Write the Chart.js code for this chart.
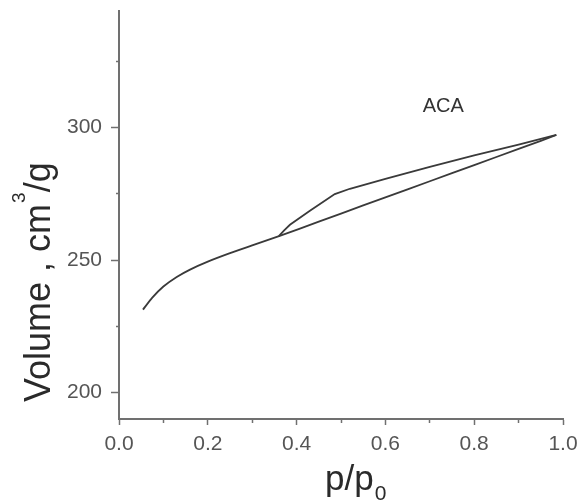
<!DOCTYPE html>
<html>
<head>
<meta charset="utf-8">
<script src="https://cdn.jsdelivr.net/npm/chart.js@4/dist/chart.umd.min.js"></script>
<style>
  html, body { margin: 0; padding: 0; background: #fff; }
  #wrap { width: 587px; height: 504px; position: relative; }
</style>
</head>
<body>
<div id="wrap"><canvas id="isotherm"></canvas></div>
<script>
// N2 isotherm of the ACA sample: adsorption and desorption branches
var adsorptionP = [0.054, 0.075, 0.1, 0.13, 0.16, 0.2, 0.25, 0.3, 0.362, 0.45, 0.55, 0.65, 0.75, 0.85, 0.95, 0.985];
var adsorptionV = [231.3, 235.8, 240.0, 243.6, 246.4, 249.4, 252.6, 255.5, 259.1, 264.5, 270.6, 276.7, 282.8, 288.9, 295.0, 297.2];
var desorptionP = [0.985, 0.9, 0.8, 0.7, 0.6, 0.52, 0.486, 0.43, 0.385, 0.372, 0.36];
var desorptionV = [297.2, 293.6, 289.5, 285.2, 280.6, 276.9, 274.9, 268.6, 263.3, 261.2, 259.0];

var xTicks = [0, 0.1, 0.2, 0.3, 0.4, 0.5, 0.6, 0.7, 0.8, 0.9, 1.0];
var xLabelled = [0, 0.2, 0.4, 0.6, 0.8, 1.0];
var yTicks = [200, 225, 250, 275, 300, 325];
var yLabelled = [200, 250, 300];

var sampleName = 'ACA';
var sampleLabelAt = { x: 0.684, y: 305.7 };

var FONT = '"Liberation Sans", Arial, sans-serif';

function toPoints(xs, ys) {
    var pts = [];
    for (var i = 0; i < xs.length; i++) {
        pts.push({ x: xs[i], y: ys[i] });
    }
    return pts;
}

function isLabelled(list, v) {
    for (var i = 0; i < list.length; i++) {
        if (Math.abs(list[i] - v) < 1e-6) return true;
    }
    return false;
}

// axis titles with super/subscripts, plus the sample name
var textPlugin = {
    id: 'isoText',
    afterDraw: function(chart) {
        var ctx = chart.ctx;
        var area = chart.chartArea;
        ctx.save();
        ctx.fillStyle = '#2a2a2a';
        ctx.textAlign = 'left';
        ctx.textBaseline = 'alphabetic';

        // y title, reading bottom to top
        ctx.save();
        ctx.translate(area.left - 69, area.bottom - 17);
        ctx.rotate(-Math.PI / 2);
        ctx.font = '36px ' + FONT;
        var pos = 0;
        ctx.fillText('Volume , cm', pos, 0);
        pos += ctx.measureText('Volume , cm').width + 1;
        ctx.font = '19px ' + FONT;
        ctx.fillText('3', pos, -25);
        pos += ctx.measureText('3').width;
        ctx.font = '36px ' + FONT;
        ctx.fillText('/g', pos, 0);
        ctx.restore();

        // x title
        var tx = area.left + 206;
        var ty = area.bottom + 71;
        ctx.font = '35px ' + FONT;
        ctx.fillText('p/p', tx, ty);
        tx += ctx.measureText('p/p').width + 1;
        ctx.font = '21px ' + FONT;
        ctx.fillText('0', tx, ty + 10);

        // sample name
        var sx = chart.scales.x.getPixelForValue(sampleLabelAt.x);
        var sy = chart.scales.y.getPixelForValue(sampleLabelAt.y);
        ctx.fillStyle = '#333';
        ctx.font = '20px ' + FONT;
        ctx.fillText(sampleName, sx, sy);
        ctx.restore();
    }
};

var lineColor = '#3a3a3a';
var axisColor = '#707070';
var tickText = '#555';

var chart = new Chart(document.getElementById('isotherm'), {
    type: 'scatter',
    data: {
        datasets: [{
            label: 'Adsorption',
            data: toPoints(adsorptionP, adsorptionV),
            showLine: true,
            borderColor: lineColor,
            borderWidth: 1.8,
            pointRadius: 0,
            tension: 0.2
        }, {
            label: 'Desorption',
            data: toPoints(desorptionP, desorptionV),
            showLine: true,
            borderColor: lineColor,
            borderWidth: 1.8,
            pointRadius: 0,
            tension: 0
        }]
    },
    options: {
        responsive: true,
        maintainAspectRatio: false,
        animation: false,
        layout: { padding: { left: 0, top: 11, right: 24, bottom: 0 } },
        plugins: {
            legend: { display: false },
            tooltip: { enabled: false }
        },
        scales: {
            x: {
                type: 'linear',
                min: 0,
                max: 1,
                afterFit: function(scale) {
                    scale.height = 85;
                    scale.paddingLeft = 0;
                    scale.paddingRight = 0;
                },
                afterBuildTicks: function(scale) {
                    scale.ticks = xTicks.map(function(v) { return { value: v }; });
                },
                border: { display: true, color: axisColor, width: 2 },
                grid: {
                    drawOnChartArea: false,
                    drawTicks: true,
                    tickLength: 6,
                    tickColor: axisColor,
                    tickWidth: 1.5,
                    tickBorderDash: function(ctx) {
                        return isLabelled(xLabelled, ctx.tick.value) ? [] : [3, 20];
                    }
                },
                ticks: {
                    autoSkip: false,
                    maxRotation: 0,
                    padding: 7,
                    color: tickText,
                    font: { family: FONT, size: 21 },
                    callback: function(v) {
                        return isLabelled(xLabelled, v) ? v.toFixed(1) : '';
                    }
                }
            },
            y: {
                type: 'linear',
                min: 190,
                max: 344,
                afterFit: function(scale) {
                    scale.width = 119;
                    scale.paddingTop = 0;
                    scale.paddingBottom = 0;
                },
                afterBuildTicks: function(scale) {
                    scale.ticks = yTicks.map(function(v) { return { value: v }; });
                },
                border: { display: true, color: axisColor, width: 2 },
                grid: {
                    drawOnChartArea: false,
                    drawTicks: true,
                    tickLength: 8,
                    tickColor: axisColor,
                    tickWidth: 1.5,
                    tickBorderDash: function(ctx) {
                        return isLabelled(yLabelled, ctx.tick.value) ? [] : [0, 5, 20];
                    }
                },
                ticks: {
                    autoSkip: false,
                    padding: 9,
                    color: tickText,
                    font: { family: FONT, size: 21 },
                    callback: function(v) {
                        return isLabelled(yLabelled, v) ? String(v) : '';
                    }
                }
            }
        }
    },
    plugins: [textPlugin]
});
</script>
</body>
</html>
